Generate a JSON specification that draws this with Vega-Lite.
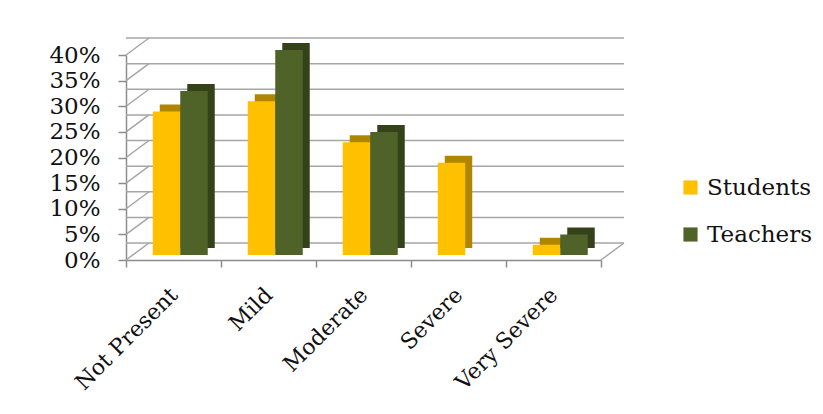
{
  "$schema": "https://vega.github.io/schema/vega-lite/v6.json",
  "autosize": {"type": "none"},
  "padding": {"left": 126, "top": 55, "right": 222, "bottom": 154},
  "width": 475,
  "height": 205,
  "background": "white",
  "config": {
    "view": {"stroke": null},
    "font": "DejaVu Serif",
    "axis": {"labelFont": "DejaVu Serif", "labelColor": "#111111", "domainColor": "#8c8c8c", "tickColor": "#8c8c8c", "domainWidth": 1.5, "tickWidth": 1.5, "labelOverlap": false},
    "axisY": {"labelOverlap": false, "labelFontSize": 23, "tickSize": 8, "labelPadding": 18, "grid": false, "title": null},
    "legend": {"labelFont": "DejaVu Serif", "labelColor": "#111111"}
  },
  "datasets": {
    "bars": [
      {"category": "Not Present", "group": "Students", "value": 0.28},
      {"category": "Not Present", "group": "Teachers", "value": 0.32},
      {"category": "Mild", "group": "Students", "value": 0.30},
      {"category": "Mild", "group": "Teachers", "value": 0.40},
      {"category": "Moderate", "group": "Students", "value": 0.22},
      {"category": "Moderate", "group": "Teachers", "value": 0.24},
      {"category": "Severe", "group": "Students", "value": 0.18},
      {"category": "Severe", "group": "Teachers", "value": 0.0},
      {"category": "Very Severe", "group": "Students", "value": 0.02},
      {"category": "Very Severe", "group": "Teachers", "value": 0.04}
    ],
    "grid": [
      {"g": 0.0}, {"g": 0.05}, {"g": 0.10}, {"g": 0.15}, {"g": 0.20},
      {"g": 0.25}, {"g": 0.30}, {"g": 0.35}, {"g": 0.40}
    ]
  },
  "layer": [
    {
      "data": {"name": "grid"},
      "mark": {"type": "rule", "color": "#a6a6a6", "strokeWidth": 1.5, "xOffset": 23, "yOffset": -17, "x2Offset": 23, "y2Offset": -17},
      "encoding": {
        "y": {
          "field": "g", "type": "quantitative",
          "scale": {"domain": [0, 0.4], "nice": false},
          "axis": {"title": null, "format": ".0%", "values": [0, 0.05, 0.1, 0.15, 0.2, 0.25, 0.3, 0.35, 0.4], "labelOverlap": false}
        }
      }
    },
    {
      "data": {"name": "grid"},
      "mark": {"type": "rule", "color": "#a6a6a6", "strokeWidth": 1.5, "x2Offset": 23, "y2Offset": -17},
      "encoding": {
        "x": {
          "datum": "Not Present", "type": "nominal", "bandPosition": 0,
          "scale": {"domain": ["Not Present", "Mild", "Moderate", "Severe", "Very Severe"], "paddingInner": 0, "paddingOuter": 0},
          "axis": {"title": null, "labelAngle": -45, "labelFontSize": 22, "labelOverlap": false, "labelPadding": 24, "tickBand": "extent", "tickSize": 7, "labelAlign": "right", "labelBaseline": "middle"}
        },
        "x2": {"datum": "Not Present", "bandPosition": 0},
        "y": {"field": "g", "type": "quantitative", "axis": {"title": null, "format": ".0%", "values": [0, 0.05, 0.1, 0.15, 0.2, 0.25, 0.3, 0.35, 0.4], "labelOverlap": false}},
        "y2": {"field": "g"}
      }
    },
    {
      "data": {"values": [{"g": 0}]},
      "mark": {"type": "rule", "color": "#a6a6a6", "strokeWidth": 1.5, "x2Offset": 23, "y2Offset": -17},
      "encoding": {
        "x": {"datum": "Very Severe", "type": "nominal", "bandPosition": 1},
        "x2": {"datum": "Very Severe", "bandPosition": 1},
        "y": {"field": "g", "type": "quantitative", "axis": {"title": null, "format": ".0%", "values": [0, 0.05, 0.1, 0.15, 0.2, 0.25, 0.3, 0.35, 0.4], "labelOverlap": false}},
        "y2": {"field": "g"}
      }
    },
    {
      "data": {"name": "bars"},
      "transform": [{"filter": "datum.group == 'Students'"}],
      "mark": {"type": "bar", "width": 27.5, "xOffset": 0, "yOffset": -12, "color": "#b08600"},
      "encoding": {
        "x": {"field": "category", "type": "nominal"},
        "y": {"field": "value", "type": "quantitative", "axis": {"title": null, "format": ".0%", "values": [0, 0.05, 0.1, 0.15, 0.2, 0.25, 0.3, 0.35, 0.4], "labelOverlap": false}}
      }
    },
    {
      "data": {"name": "bars"},
      "transform": [{"filter": "datum.group == 'Teachers'"}],
      "mark": {"type": "bar", "width": 27.5, "xOffset": 27.5, "yOffset": -12, "color": "#34421a"},
      "encoding": {
        "x": {"field": "category", "type": "nominal"},
        "y": {"field": "value", "type": "quantitative", "axis": {"title": null, "format": ".0%", "values": [0, 0.05, 0.1, 0.15, 0.2, 0.25, 0.3, 0.35, 0.4], "labelOverlap": false}}
      }
    },
    {
      "data": {"name": "bars"},
      "transform": [{"filter": "datum.group == 'Students'"}],
      "mark": {"type": "bar", "width": 27.5, "xOffset": -7, "yOffset": -5},
      "encoding": {
        "x": {"field": "category", "type": "nominal"},
        "y": {"field": "value", "type": "quantitative", "axis": {"title": null, "format": ".0%", "values": [0, 0.05, 0.1, 0.15, 0.2, 0.25, 0.3, 0.35, 0.4], "labelOverlap": false}},
        "color": {
          "field": "group", "type": "nominal",
          "scale": {"domain": ["Students", "Teachers"], "range": ["#ffc000", "#4f6228"]},
          "legend": {"title": null, "orient": "none", "legendX": 553, "legendY": 121, "symbolType": "square", "symbolSize": 200, "symbolStrokeWidth": 0, "labelFontSize": 23, "rowPadding": 23, "labelOffset": 5}
        }
      }
    },
    {
      "data": {"name": "bars"},
      "transform": [{"filter": "datum.group == 'Teachers'"}],
      "mark": {"type": "bar", "width": 27.5, "xOffset": 20.5, "yOffset": -5},
      "encoding": {
        "x": {"field": "category", "type": "nominal"},
        "y": {"field": "value", "type": "quantitative", "axis": {"title": null, "format": ".0%", "values": [0, 0.05, 0.1, 0.15, 0.2, 0.25, 0.3, 0.35, 0.4], "labelOverlap": false}},
        "color": {"field": "group", "type": "nominal"}
      }
    }
  ]
}
